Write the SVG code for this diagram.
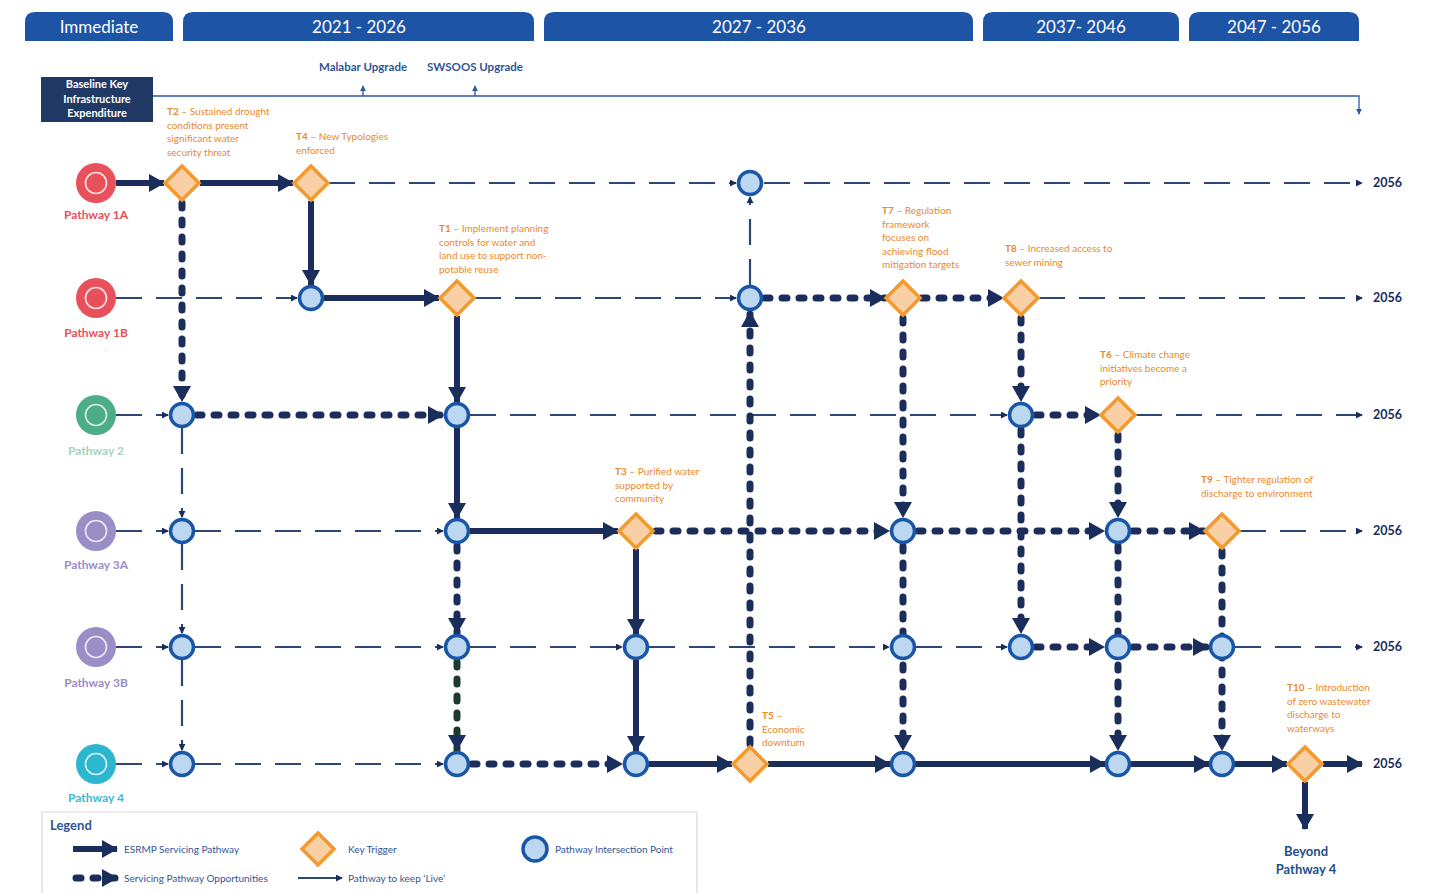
<svg xmlns="http://www.w3.org/2000/svg" width="1429" height="893" viewBox="0 0 1429 893">
<defs>
<style>
text{font-family:Lato,"Liberation Sans",sans-serif}
.tab{fill:#1d54a5}
.tabt{fill:#fff;font-size:17px;text-anchor:middle}
.solid{fill:none;stroke:#1b2d5b;stroke-width:6;marker-end:url(#ah)}
.dot{fill:none;stroke:#1b2d5b;stroke-width:7;stroke-dasharray:5 12;stroke-linecap:round;marker-end:url(#ah)}
.live{fill:none;stroke:#2b4775;stroke-width:2.2;stroke-dasharray:26 14;marker-end:url(#sa)}
.int{fill:#bcd8f1;stroke:#1a56a8;stroke-width:3.5}
.trg{fill:#f9cfa5;stroke:#f39a2e;stroke-width:3.5;stroke-linejoin:miter}
.tl{fill:#e98a2b;font-size:10px}
.tl tspan.b{font-weight:bold}
.end{fill:#1b2d5b;font-size:12.5px;font-weight:bold}
.pl{font-size:12px;font-weight:bold;text-anchor:middle}
.ring{fill:none;stroke:#fbe3e3;stroke-width:1.6}
.lg{fill:#2f5597;font-size:10px}
</style>
<marker id="ah" viewBox="0 0 16 18" markerWidth="16" markerHeight="18" refX="15" refY="9" orient="auto" markerUnits="userSpaceOnUse"><path d="M0,0 L16,9 L0,18 z" fill="#1b2d5b"/></marker>
<marker id="sa" viewBox="0 0 8 8" markerWidth="7" markerHeight="7" refX="7" refY="4" orient="auto" markerUnits="userSpaceOnUse"><path d="M0,0 L8,4 L0,8 z" fill="#1b2d5b"/></marker>
<marker id="ta" viewBox="0 0 8 8" markerWidth="6" markerHeight="6" refX="7" refY="4" orient="auto" markerUnits="userSpaceOnUse"><path d="M0,0 L8,4 L0,8 z" fill="#2e5a9a"/></marker>
</defs>
<rect width="1429" height="893" fill="#fff"/>

<g id="header">
<path class="tab" d="M25,41 V22 Q25,12 35,12 H163 Q173,12 173,22 V41 z"/>
<path class="tab" d="M183,41 V22 Q183,12 193,12 H524 Q534,12 534,22 V41 z"/>
<path class="tab" d="M544,41 V22 Q544,12 554,12 H963 Q973,12 973,22 V41 z"/>
<path class="tab" d="M983,41 V22 Q983,12 993,12 H1169 Q1179,12 1179,22 V41 z"/>
<path class="tab" d="M1189,41 V22 Q1189,12 1199,12 H1349 Q1359,12 1359,22 V41 z"/>
<text class="tabt" x="99" y="33">Immediate</text>
<text class="tabt" x="359" y="33">2021 - 2026</text>
<text class="tabt" x="759" y="33">2027 - 2036</text>
<text class="tabt" x="1081" y="33">2037- 2046</text>
<text class="tabt" x="1274" y="33">2047 - 2056</text>
</g>

<g id="baseline">
<rect x="41" y="77" width="112" height="45" fill="#1f3864"/>
<text fill="#fff" font-size="11" font-weight="bold" text-anchor="middle"><tspan x="97" y="88">Baseline Key</tspan><tspan x="97" y="103">Infrastructure</tspan><tspan x="97" y="117">Expenditure</tspan></text>
<path d="M153,96 H1359 V114" fill="none" stroke="#2e5a9a" stroke-width="1.3" marker-end="url(#ta)"/>
<path d="M363,96 V86" fill="none" stroke="#2e5a9a" stroke-width="1.3" marker-end="url(#ta)"/>
<path d="M475,96 V86" fill="none" stroke="#2e5a9a" stroke-width="1.3" marker-end="url(#ta)"/>
<text fill="#2f5597" font-size="11.5" font-weight="bold" text-anchor="middle" x="363" y="71">Malabar Upgrade</text>
<text fill="#2f5597" font-size="11.5" font-weight="bold" text-anchor="middle" x="475" y="71">SWSOOS Upgrade</text>
</g>

<g id="connectors">
<path class="live" d="M329,183 H736"/>
<path class="live" d="M764,183 H1362"/>
<path class="live" d="M116,298 H297"/>
<path class="live" d="M475,298 H736"/>
<path class="live" d="M1039,298 H1362"/>
<path class="live" d="M116,415 H168"/>
<path class="live" d="M470,415 H1007"/>
<path class="live" d="M1136,415 H1362"/>
<path class="live" d="M116,531 H168"/>
<path class="live" d="M195,531 H443"/>
<path class="live" d="M1240,531 H1362"/>
<path class="live" d="M116,647 H168"/>
<path class="live" d="M195,647 H443"/>
<path class="live" d="M470,647 H622"/>
<path class="live" d="M649,647 H889"/>
<path class="live" d="M916,647 H1007"/>
<path class="live" d="M1235,647 H1362"/>
<path class="live" d="M116,764 H168"/>
<path class="live" d="M195,764 H443"/>
<path class="live" d="M182,428 V517"/>
<path class="live" d="M182,544 V633"/>
<path class="live" d="M182,660 V750"/>
<path class="live" d="M750,285 V197"/>
<path class="dot" d="M182,203 V401"/>
<path class="dot" d="M197,415 H443"/>
<path class="dot" d="M765,298 H885"/>
<path class="dot" d="M922,298 H1003"/>
<path class="dot" d="M903,318 V517"/>
<path class="dot" d="M903,546 V750"/>
<path class="dot" d="M1021,318 V401"/>
<path class="dot" d="M1021,430 V633"/>
<path class="dot" d="M1036,415 H1100"/>
<path class="dot" d="M1118,435 V517"/>
<path class="dot" d="M1118,546 V750"/>
<path class="dot" d="M656,531 H889"/>
<path class="dot" d="M918,531 H1104"/>
<path class="dot" d="M1133,531 H1204"/>
<path class="dot" d="M1222,551 V750"/>
<path class="dot" d="M457,546 V633"/>
<path class="dot" d="M457,662 V750" style="stroke:#1e3a30"/>
<path class="dot" d="M472,764 H622"/>
<path class="dot" d="M1036,647 H1104"/>
<path class="dot" d="M1133,647 H1208"/>
<path class="dot" d="M750,744 V312"/>
<path class="solid" d="M116,183 H164"/>
<path class="solid" d="M200,183 H293"/>
<path class="solid" d="M311,201 V285"/>
<path class="solid" d="M324,298 H439"/>
<path class="solid" d="M457,316 V402"/>
<path class="solid" d="M457,428 V518"/>
<path class="solid" d="M470,531 H618"/>
<path class="solid" d="M636,549 V634"/>
<path class="solid" d="M636,660 V751"/>
<path class="solid" d="M649,764 H732"/>
<path class="solid" d="M768,764 H890"/>
<path class="solid" d="M916,764 H1105"/>
<path class="solid" d="M1131,764 H1209"/>
<path class="solid" d="M1235,764 H1287"/>
<path class="solid" d="M1323,764 H1362"/>
<path class="solid" d="M1305,782 V829"/>
</g>

<g id="pathways">
<g id="p1a"><circle cx="96" cy="183" r="20" fill="#e8505b"/><circle class="ring" cx="96" cy="183" r="10.5"/><text class="pl" x="96" y="219" fill="#e8505b">Pathway 1A</text></g>
<g id="p1b"><circle cx="96" cy="298" r="20" fill="#e8505b"/><circle class="ring" cx="96" cy="298" r="10.5"/><text class="pl" x="96" y="337" fill="#e8505b">Pathway 1B</text></g>
<g id="p2"><circle cx="96" cy="415" r="20" fill="#4cae88"/><circle class="ring" cx="96" cy="415" r="10.5" style="stroke:#d6efe4"/><text class="pl" x="96" y="455" fill="#a3d3bf">Pathway 2</text></g>
<g id="p3a"><circle cx="96" cy="531" r="20" fill="#9a8ec6"/><circle class="ring" cx="96" cy="531" r="10.5" style="stroke:#ece8f6"/><text class="pl" x="96" y="569" fill="#9a8ec6">Pathway 3A</text></g>
<g id="p3b"><circle cx="96" cy="647" r="20" fill="#9a8ec6"/><circle class="ring" cx="96" cy="647" r="10.5" style="stroke:#ece8f6"/><text class="pl" x="96" y="687" fill="#9a8ec6">Pathway 3B</text></g>
<g id="p4"><circle cx="96" cy="764" r="20" fill="#2db6d0"/><circle class="ring" cx="96" cy="764" r="10.5" style="stroke:#d4f1f6"/><text class="pl" x="96" y="802" fill="#3bb8d5">Pathway 4</text></g>
</g>

<g id="intersections">
<circle id="i-1a-750" class="int" cx="750" cy="183" r="11.5"/>
<circle id="i-1b-311" class="int" cx="311" cy="298" r="11.5"/>
<circle id="i-1b-750" class="int" cx="750" cy="298" r="11.5"/>
<circle id="i-2-182" class="int" cx="182" cy="415" r="11.5"/>
<circle id="i-2-457" class="int" cx="457" cy="415" r="11.5"/>
<circle id="i-2-1021" class="int" cx="1021" cy="415" r="11.5"/>
<circle id="i-3a-182" class="int" cx="182" cy="531" r="11.5"/>
<circle id="i-3a-457" class="int" cx="457" cy="531" r="11.5"/>
<circle id="i-3a-903" class="int" cx="903" cy="531" r="11.5"/>
<circle id="i-3a-1118" class="int" cx="1118" cy="531" r="11.5"/>
<circle id="i-3b-182" class="int" cx="182" cy="647" r="11.5"/>
<circle id="i-3b-457" class="int" cx="457" cy="647" r="11.5"/>
<circle id="i-3b-636" class="int" cx="636" cy="647" r="11.5"/>
<circle id="i-3b-903" class="int" cx="903" cy="647" r="11.5"/>
<circle id="i-3b-1021" class="int" cx="1021" cy="647" r="11.5"/>
<circle id="i-3b-1118" class="int" cx="1118" cy="647" r="11.5"/>
<circle id="i-3b-1222" class="int" cx="1222" cy="647" r="11.5"/>
<circle id="i-4-182" class="int" cx="182" cy="764" r="11.5"/>
<circle id="i-4-457" class="int" cx="457" cy="764" r="11.5"/>
<circle id="i-4-636" class="int" cx="636" cy="764" r="11.5"/>
<circle id="i-4-903" class="int" cx="903" cy="764" r="11.5"/>
<circle id="i-4-1118" class="int" cx="1118" cy="764" r="11.5"/>
<circle id="i-4-1222" class="int" cx="1222" cy="764" r="11.5"/>
</g>

<g id="triggers">
<g id="t2"><path class="trg" d="M182,166 L199,183 L182,200 L165,183 z"/>
<text class="tl"><tspan x="167" y="115"><tspan class="b">T2</tspan> – Sustained drought</tspan><tspan x="167" y="128.5">conditions present</tspan><tspan x="167" y="142">significant water</tspan><tspan x="167" y="155.5">security threat</tspan></text></g>
<g id="t4"><path class="trg" d="M311,166 L328,183 L311,200 L294,183 z"/>
<text class="tl"><tspan x="296" y="140"><tspan class="b">T4</tspan> – New Typologies</tspan><tspan x="296" y="154">enforced</tspan></text></g>
<g id="t1"><path class="trg" d="M457,281 L474,298 L457,315 L440,298 z"/>
<text class="tl"><tspan x="439" y="232"><tspan class="b">T1</tspan> – Implement planning</tspan><tspan x="439" y="245.5">controls for water and</tspan><tspan x="439" y="259">land use to support non-</tspan><tspan x="439" y="272.5">potable reuse</tspan></text></g>
<g id="t7"><path class="trg" d="M903,281 L920,298 L903,315 L886,298 z"/>
<text class="tl"><tspan x="882" y="214"><tspan class="b">T7</tspan> – Regulation</tspan><tspan x="882" y="227.5">framework</tspan><tspan x="882" y="241">focuses on</tspan><tspan x="882" y="254.5">achieving flood</tspan><tspan x="882" y="268">mitigation targets</tspan></text></g>
<g id="t8"><path class="trg" d="M1021,281 L1038,298 L1021,315 L1004,298 z"/>
<text class="tl"><tspan x="1005" y="252"><tspan class="b">T8</tspan> – Increased access to</tspan><tspan x="1005" y="265.5">sewer mining</tspan></text></g>
<g id="t6"><path class="trg" d="M1118,398 L1135,415 L1118,432 L1101,415 z"/>
<text class="tl"><tspan x="1100" y="358"><tspan class="b">T6</tspan> – Climate change</tspan><tspan x="1100" y="371.5">initiatives become a</tspan><tspan x="1100" y="385">priority</tspan></text></g>
<g id="t3"><path class="trg" d="M636,514 L653,531 L636,548 L619,531 z"/>
<text class="tl"><tspan x="615" y="475"><tspan class="b">T3</tspan> – Purified water</tspan><tspan x="615" y="488.5">supported by</tspan><tspan x="615" y="502">community</tspan></text></g>
<g id="t9"><path class="trg" d="M1222,514 L1239,531 L1222,548 L1205,531 z"/>
<text class="tl"><tspan x="1201" y="483"><tspan class="b">T9</tspan> – Tighter regulation of</tspan><tspan x="1201" y="497">discharge to environment</tspan></text></g>
<g id="t5"><path class="trg" d="M750,747 L767,764 L750,781 L733,764 z"/>
<text class="tl"><tspan x="762" y="719"><tspan class="b">T5</tspan> –</tspan><tspan x="762" y="732.5">Economic</tspan><tspan x="762" y="746">downturn</tspan></text></g>
<g id="t10"><path class="trg" d="M1305,747 L1322,764 L1305,781 L1288,764 z"/>
<text class="tl"><tspan x="1287" y="691"><tspan class="b">T10</tspan> – Introduction</tspan><tspan x="1287" y="704.5">of zero wastewater</tspan><tspan x="1287" y="718">discharge to</tspan><tspan x="1287" y="731.5">waterways</tspan></text></g>
</g>

<g id="ends">
<text class="end" x="1373" y="187">2056</text>
<text class="end" x="1373" y="302">2056</text>
<text class="end" x="1373" y="419">2056</text>
<text class="end" x="1373" y="535">2056</text>
<text class="end" x="1373" y="651">2056</text>
<text class="end" x="1373" y="768">2056</text>
<text fill="#1f4e8c" font-size="13" font-weight="bold" text-anchor="middle"><tspan x="1306" y="856">Beyond</tspan><tspan x="1306" y="874">Pathway 4</tspan></text>
</g>

<g id="legend">
<path d="M42,893 V812 H697 V893" fill="none" stroke="#d9d9d9" stroke-width="1.2"/>
<text x="50" y="830" fill="#2f5597" font-size="13" font-weight="bold">Legend</text>
<path d="M73,849 H117" fill="none" stroke="#1b2d5b" stroke-width="6" marker-end="url(#ah)"/>
<text class="lg" x="124" y="853">ESRMP Servicing Pathway</text>
<path d="M76,878 H117" fill="none" stroke="#1b2d5b" stroke-width="7" stroke-dasharray="5 12" stroke-linecap="round" marker-end="url(#ah)"/>
<text class="lg" x="124" y="882">Servicing Pathway Opportunities</text>
<path class="trg" d="M318,833 L334,849 L318,865 L302,849 z"/>
<text class="lg" x="348" y="853">Key Trigger</text>
<path d="M298,878 H342" fill="none" stroke="#2b4775" stroke-width="1.8" marker-end="url(#sa)"/>
<text class="lg" x="348" y="882">Pathway to keep ‘Live’</text>
<circle class="int" cx="535" cy="849" r="12"/>
<text class="lg" x="555" y="853">Pathway Intersection Point</text>
</g>
</svg>
